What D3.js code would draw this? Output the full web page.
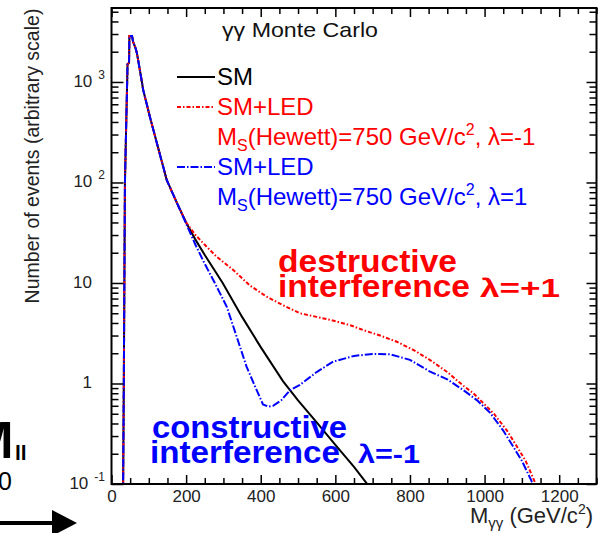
<!DOCTYPE html>
<html>
<head>
<meta charset="utf-8">
<script src="https://cdn.jsdelivr.net/npm/d3@7"></script>
<style>
  body { margin: 0; background: #fff; }
  svg { display: block; font-family: Arial, "Liberation Sans", sans-serif; }
</style>
</head>
<body>
<svg id="chart" width="602" height="533"></svg>
<script>
// values (mass in GeV/c^2, events on arbitrary scale)
const xTicks = [0, 200, 400, 600, 800, 1000, 1200];
const yDecades = [0.1, 1, 10, 100, 1000];
const yLabels = [["10", "-1"], ["1", ""], ["10", ""], ["10", "2"], ["10", "3"]];

const smMass   = [31, 33, 36, 43, 47, 48, 55, 58, 64, 68, 76, 85, 94, 103, 125, 148, 175, 200, 225, 250, 298, 350, 400, 460, 500, 550, 600, 650, 690];
const smEvents = [0.08, 1, 100, 1500, 1550, 2870, 2870, 2500, 2200, 1945, 1315, 832, 611, 449, 221, 106, 63, 40, 27, 19, 10, 4.6, 2.3, 1.05, 0.68, 0.41, 0.245, 0.148, 0.095];

const minusMass   = [31, 33, 36, 43, 47, 48, 55, 58, 64, 68, 76, 85, 94, 103, 125, 148, 175, 200, 225, 250, 280, 326, 370, 416, 460, 505, 550, 586, 640, 675, 720, 765, 810, 854, 900, 943, 970, 1000, 1025, 1060, 1087, 1110, 1137, 1150];
const minusEvents = [0.08, 1, 100, 1500, 1550, 2870, 2870, 2500, 2200, 1945, 1315, 832, 611, 449, 221, 106, 63, 40, 30, 24, 18.5, 13.5, 9.5, 7.3, 6.0, 5.0, 4.6, 4.3, 3.8, 3.4, 3.0, 2.6, 2.15, 1.71, 1.3, 0.95, 0.8, 0.62, 0.5, 0.34, 0.235, 0.17, 0.1, 0.08];

const plusMass   = [31, 33, 36, 43, 47, 48, 55, 58, 64, 68, 76, 85, 94, 103, 125, 148, 175, 200, 225, 250, 280, 309, 340, 362, 385, 406, 420, 433, 455, 479, 505, 550, 594, 650, 700, 747, 800, 854, 900, 943, 980, 1015, 1050, 1077, 1100, 1127, 1140];
const plusEvents = [0.08, 1, 100, 1500, 1550, 2870, 2870, 2500, 2200, 1945, 1315, 832, 611, 449, 221, 106, 63, 39, 24, 15.5, 9.5, 5.8, 2.6, 1.47, 0.93, 0.62, 0.59, 0.6, 0.68, 0.86, 0.97, 1.3, 1.65, 1.88, 1.97, 1.95, 1.72, 1.31, 1.1, 0.86, 0.68, 0.51, 0.34, 0.235, 0.17, 0.105, 0.085];

const svg = d3.select("#chart");
const plotLeft = 111.5, plotRight = 596.5, plotTop = 8, plotBottom = 484;

const x = d3.scaleLinear().domain([0, 1300]).range([plotLeft, plotRight]);
const y = d3.scaleLog().domain([0.1, Math.pow(10, 3.736)]).range([plotBottom, plotTop]);

// minor tick values
const xMinor = d3.range(0, 1301, 50).filter(v => v % 200 !== 0);
const yMinor = [];
yDecades.forEach(d => { for (let k = 2; k <= 9; k++) if (d * k <= y.domain()[1]) yMinor.push(d * k); });

svg.append("defs").append("clipPath").attr("id", "plotclip")
  .append("rect").attr("x", plotLeft).attr("y", plotTop).attr("width", plotRight - plotLeft).attr("height", plotBottom - plotTop);

// curves
const line = d3.line().x(d => x(d[0])).y(d => y(d[1]));
const curves = svg.append("g").attr("clip-path", "url(#plotclip)").attr("fill", "none");
curves.append("path").datum(d3.zip(smMass, smEvents))
  .attr("d", line).attr("stroke", "#000").attr("stroke-width", 2);
curves.append("path").datum(d3.zip(minusMass, minusEvents))
  .attr("d", line).attr("stroke", "#ff0000").attr("stroke-width", 2).attr("stroke-dasharray", "4,2,1.5,2");
curves.append("path").datum(d3.zip(plusMass, plusEvents))
  .attr("d", line).attr("stroke", "#0000ff").attr("stroke-width", 2).attr("stroke-dasharray", "8,2,1.5,2");

// axes (ticks drawn inward)
function tickStyle(g) {
  g.select(".domain").remove();
  g.selectAll("line").attr("stroke", "#000").attr("stroke-width", 1.5);
}
svg.append("g").attr("transform", `translate(0,${plotBottom})`)
  .call(d3.axisBottom(x).tickValues(xTicks).tickSize(-9).tickPadding(6).tickFormat(d3.format("d")))
  .call(tickStyle)
  .call(g => g.selectAll("text").attr("font-size", 17).attr("fill", "#222").attr("font-family", "Arial, 'Liberation Sans', sans-serif"));
svg.append("g").attr("transform", `translate(0,${plotBottom})`)
  .call(d3.axisBottom(x).tickValues(xMinor).tickSize(-6).tickFormat("")).call(tickStyle);
svg.append("g").attr("transform", `translate(0,${plotTop})`)
  .call(d3.axisTop(x).tickValues(xTicks).tickSize(-9).tickFormat("")).call(tickStyle);
svg.append("g").attr("transform", `translate(0,${plotTop})`)
  .call(d3.axisTop(x).tickValues(xMinor).tickSize(-6).tickFormat("")).call(tickStyle);
svg.append("g").attr("transform", `translate(${plotLeft},0)`)
  .call(d3.axisLeft(y).tickValues(yDecades).tickSize(-12).tickFormat("")).call(tickStyle);
svg.append("g").attr("transform", `translate(${plotLeft},0)`)
  .call(d3.axisLeft(y).tickValues(yMinor).tickSize(-7).tickFormat("")).call(tickStyle);
svg.append("g").attr("transform", `translate(${plotRight},0)`)
  .call(d3.axisRight(y).tickValues(yDecades).tickSize(-10).tickFormat("")).call(tickStyle);
svg.append("g").attr("transform", `translate(${plotRight},0)`)
  .call(d3.axisRight(y).tickValues(yMinor).tickSize(-7).tickFormat("")).call(tickStyle);

// frame
svg.append("rect").attr("x", plotLeft).attr("y", plotTop).attr("width", plotRight - plotLeft).attr("height", plotBottom - plotTop)
  .attr("fill", "none").attr("stroke", "#000").attr("stroke-width", 2);

// y tick labels with exponents
yDecades.forEach((d, i) => {
  const [base, exp] = yLabels[i];
  const ty = y(d) + 5;
  if (exp) {
    const sup = svg.append("text").attr("x", 105).attr("y", ty - 8).attr("text-anchor", "end")
      .attr("font-size", 12).attr("fill", "#222").text(exp);
    const w = sup.node().getComputedTextLength();
    svg.append("text").attr("x", 105 - w - 6).attr("y", ty).attr("text-anchor", "end")
      .attr("font-size", 17).attr("fill", "#222").text(base);
  } else {
    svg.append("text").attr("x", 92).attr("y", ty).attr("text-anchor", "end")
      .attr("font-size", 17).attr("fill", "#222").text(base);
  }
});

// axis titles
svg.append("text").attr("transform", "translate(39,156) rotate(-90)").attr("text-anchor", "middle")
  .attr("font-size", 19.5).attr("fill", "#222").text("Number of events (arbitrary scale)");
const xt = svg.append("text").attr("x", 593).attr("y", 523).attr("text-anchor", "end")
  .attr("font-size", 22).attr("fill", "#222");
xt.append("tspan").text("M");
xt.append("tspan").attr("font-size", 15).attr("dy", 5).text("γγ");
xt.append("tspan").attr("dy", -5).text(" (GeV/c");
xt.append("tspan").attr("font-size", 14).attr("dy", -9).text("2");
xt.append("tspan").attr("dy", 9).text(")");

// title and legend
svg.append("text").attr("x", 222).attr("y", 37).attr("font-size", 21).attr("fill", "#111")
  .attr("textLength", 156).attr("lengthAdjust", "spacingAndGlyphs").text("γγ Monte Carlo");

const legend = [
  { label: "SM", color: "#000", dash: null, y: 85, note: null },
  { label: "SM+LED", color: "#ff0000", dash: "4,2,1.5,2", y: 115, note: "-1" },
  { label: "SM+LED", color: "#0000ff", dash: "8,2,1.5,2", y: 175, note: "1" }
];
legend.forEach(l => {
  svg.append("line").attr("x1", 177).attr("x2", 215).attr("y1", l.y - 8).attr("y2", l.y - 8)
    .attr("stroke", l.color).attr("stroke-width", 2).attr("stroke-dasharray", l.dash);
  svg.append("text").attr("x", 217).attr("y", l.y).attr("font-size", 24).attr("fill", l.color).text(l.label);
  if (l.note !== null) {
    const t = svg.append("text").attr("x", 217).attr("y", l.y + 30).attr("font-size", 24).attr("fill", l.color);
    t.append("tspan").text("M");
    t.append("tspan").attr("font-size", 16).attr("dy", 6).text("S");
    t.append("tspan").attr("dy", -6).text("(Hewett)=750 GeV/c");
    t.append("tspan").attr("font-size", 16).attr("dy", -10).text("2");
    t.append("tspan").attr("dy", 10).text(", λ=" + l.note);
  }
});

// annotations (widths matched to the picture)
function note(o) {
  const g = svg.append("g").attr("fill", o.color).attr("font-weight", "bold");
  g.append("text").attr("x", o.x).attr("y", o.y).attr("font-size", 32)
    .attr("textLength", o.wordLen).attr("lengthAdjust", "spacingAndGlyphs").text(o.word);
  g.append("text").attr("x", o.x2).attr("y", o.y + 25).attr("font-size", 32)
    .attr("textLength", o.interfLen).attr("lengthAdjust", "spacingAndGlyphs").text("interference");
  g.append("text").attr("x", o.lamX).attr("y", o.y + 25).attr("font-size", 26)
    .attr("textLength", o.lamLen).attr("lengthAdjust", "spacingAndGlyphs").text("λ=" + o.lam);
}
note({ x: 278, x2: 278, y: 272, color: "#ff0000", word: "destructive", wordLen: 179, interfLen: 192, lam: "+1", lamX: 480, lamLen: 80 });
note({ x: 152, x2: 150, y: 438, color: "#0000ff", word: "constructive", wordLen: 195, interfLen: 190, lam: "-1", lamX: 358, lamLen: 62 });

// slide fragments at the left edge
const m = svg.append("g").attr("fill", "#000").attr("font-weight", "bold");
m.append("text").attr("x", 13.5).attr("y", 458).attr("text-anchor", "end").attr("font-size", 51).text("M");
m.append("text").attr("x", 15).attr("y", 460).attr("font-size", 21).text("ll");
svg.append("text").attr("x", 12).attr("y", 490).attr("text-anchor", "end").attr("font-size", 25).attr("fill", "#000").text("0");
svg.append("line").attr("x1", 0).attr("x2", 56).attr("y1", 523).attr("y2", 523).attr("stroke", "#000").attr("stroke-width", 4);
svg.append("path").attr("d", "M52,510 L77,523 L52,536 Z").attr("fill", "#000");
</script>
</body>
</html>
